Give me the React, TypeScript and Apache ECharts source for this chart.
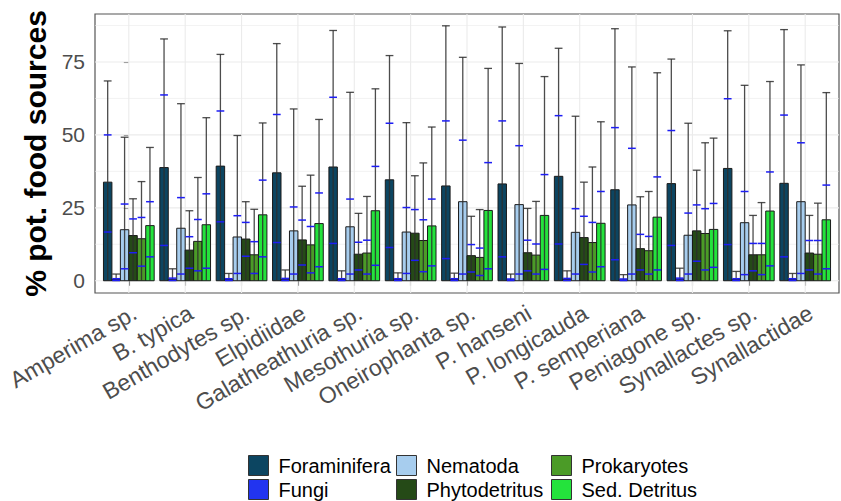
import React, { useEffect, useRef } from 'react';
import * as echarts from 'echarts';

const categories = [
  'Amperima sp.', 'B. typica', 'Benthodytes sp.', 'Elpidiidae', 'Galatheathuria sp.',
  'Mesothuria sp.', 'Oneirophanta sp.', 'P. hanseni', 'P. longicauda', 'P. semperiana',
  'Peniagone sp.', 'Synallactes sp.', 'Synallactidae',
];

const seriesNames = ['Foraminifera', 'Fungi', 'Nematoda', 'Phytodetritus', 'Prokaryotes', 'Sed. Detritus'];
const seriesColors = ['#0c4561', '#2234f0', '#a7cdee', '#254a17', '#4b9b27', '#24e33c'];

// bar height (mean), blue lower/upper marks, black whisker maximum
const foraminiferaBar = [33.8, 38.8, 39.3, 37.0, 39.0, 34.6, 32.5, 33.2, 35.8, 31.2, 33.3, 38.5, 33.4];
const foraminiferaLow = [16.7, 12.1, 20.2, 13.1, 12.8, 11.4, 7.6, 8.2, 12.6, 7.2, 12.1, 12.4, 8.2];
const foraminiferaHigh = [50.0, 63.7, 58.2, 57.0, 62.9, 54.0, 54.8, 54.8, 56.6, 52.5, 51.5, 62.4, 56.8];
const foraminiferaMax = [68.5, 82.9, 77.6, 81.3, 85.8, 77.2, 87.4, 87.0, 79.7, 86.4, 76.0, 85.7, 86.1];

const fungiBar = [0.4, 0.5, 0.4, 0.5, 0.4, 0.4, 0.4, 0.3, 0.5, 0.3, 0.6, 0.4, 0.4];
const fungiLow = [0.1, 0.1, 0.1, 0.1, 0.1, 0.1, 0.1, 0.1, 0.1, 0.1, 0.1, 0.1, 0.1];
const fungiHigh = [0.7, 0.9, 0.7, 0.8, 0.7, 0.7, 0.7, 0.6, 0.8, 0.6, 0.9, 0.7, 0.7];
const fungiMax = [2.3, 4.1, 2.5, 3.7, 3.4, 2.7, 2.6, 2.3, 3.4, 2.1, 4.3, 3.2, 2.5];

const nematodaBar = [17.5, 18.0, 15.0, 17.1, 18.5, 16.7, 27.1, 26.1, 16.6, 26.0, 15.6, 19.9, 27.1];
const nematodaLow = [4.1, 2.3, 2.5, 2.3, 2.3, 2.5, 2.3, 2.3, 2.3, 2.3, 2.3, 2.1, 2.5];
const nematodaHigh = [26.3, 28.5, 22.3, 25.3, 28.0, 25.1, 48.2, 46.3, 24.7, 45.4, 23.2, 30.6, 47.3];
const nematodaMax = [49.2, 60.7, 49.8, 58.9, 64.6, 54.2, 76.6, 74.5, 56.4, 73.3, 54.0, 67.0, 74.0];

const phytodetritusBar = [15.5, 10.5, 14.3, 14.0, 9.1, 16.3, 8.6, 9.6, 14.8, 11.0, 17.1, 8.9, 9.5];
const phytodetritusLow = [9.6, 4.3, 8.4, 5.4, 3.7, 7.0, 3.0, 3.4, 5.6, 3.7, 6.7, 3.4, 3.7];
const phytodetritusHigh = [21.2, 15.1, 20.0, 20.8, 13.2, 24.4, 12.4, 13.9, 22.1, 15.9, 26.0, 12.8, 13.8];
const phytodetritusMax = [28.1, 24.0, 27.1, 32.4, 23.1, 36.0, 22.1, 24.8, 33.8, 28.8, 37.9, 22.4, 22.4];

const prokaryotesBar = [14.4, 13.5, 8.9, 12.3, 9.5, 13.8, 8.0, 8.8, 13.1, 10.3, 16.2, 8.9, 9.1];
const prokaryotesLow = [5.0, 3.4, 2.5, 2.7, 2.3, 3.1, 1.8, 2.3, 3.0, 2.3, 3.7, 2.1, 2.3];
const prokaryotesHigh = [21.7, 21.0, 13.4, 18.6, 13.9, 20.9, 11.2, 12.6, 20.0, 15.2, 24.7, 12.8, 13.8];
const prokaryotesMax = [34.0, 35.4, 24.5, 36.2, 28.9, 40.4, 24.4, 27.2, 39.0, 30.6, 47.3, 26.8, 26.6];

const sedDetritusBar = [18.9, 19.2, 22.6, 19.6, 24.0, 18.8, 24.1, 22.4, 19.7, 21.8, 17.6, 23.9, 20.9];
const sedDetritusLow = [8.2, 4.3, 8.2, 4.8, 5.3, 5.1, 4.1, 3.9, 4.8, 3.7, 4.6, 5.1, 4.1];
const sedDetritusHigh = [27.1, 29.8, 34.5, 30.1, 39.2, 28.0, 40.5, 36.4, 30.6, 35.6, 26.5, 37.3, 32.8];
const sedDetritusMax = [45.7, 55.9, 54.1, 55.3, 65.8, 52.7, 72.8, 70.0, 54.5, 71.3, 48.9, 68.3, 64.5];

const yTickValues = [0, 25, 50, 75];
const yMinorGridValues = [12.5, 37.5, 62.5, 87.5];

const FONT = '"Liberation Sans", Arial, Helvetica, sans-serif';

export default function App() {
  const ref = useRef<HTMLDivElement>(null);

  useEffect(() => {
    if (!ref.current) return;
    const chart = echarts.init(ref.current, null, { renderer: 'svg' });

    const groups = [
      { bar: foraminiferaBar, low: foraminiferaLow, high: foraminiferaHigh, max: foraminiferaMax },
      { bar: fungiBar, low: fungiLow, high: fungiHigh, max: fungiMax },
      { bar: nematodaBar, low: nematodaLow, high: nematodaHigh, max: nematodaMax },
      { bar: phytodetritusBar, low: phytodetritusLow, high: phytodetritusHigh, max: phytodetritusMax },
      { bar: prokaryotesBar, low: prokaryotesLow, high: prokaryotesHigh, max: prokaryotesMax },
      { bar: sedDetritusBar, low: sedDetritusLow, high: sedDetritusHigh, max: sedDetritusMax },
    ];
    const nG = groups.length;
    const dodge = 0.9;
    const bw = dodge / nG;
    const offset = (g: number) => -dodge / 2 + bw / 2 + g * bw;

    const gridLineSeries: any[] = [
      {
        type: 'custom',
        name: 'hgrid',
        silent: true,
        z: 1,
        data: [
          ...yMinorGridValues.map((v) => [0, v, 0]),
          ...yTickValues.map((v) => [0, v, 1]),
        ],
        encode: { x: 0, y: 1 },
        renderItem: (params: any, api: any) => {
          const cs = params.coordSys;
          const y = api.coord([0, api.value(1)])[1];
          const major = api.value(2) === 1;
          return {
            type: 'line',
            shape: { x1: cs.x, y1: y, x2: cs.x + cs.width, y2: y },
            style: { stroke: '#ebebeb', lineWidth: major ? 1.1 : 0.6 },
          };
        },
      },
      {
        type: 'custom',
        name: 'vgrid',
        silent: true,
        z: 1,
        data: categories.map((_, i) => [i, 0]),
        encode: { x: 0, y: 1 },
        renderItem: (params: any, api: any) => {
          const cs = params.coordSys;
          const x = api.coord([api.value(0), 0])[0];
          return {
            type: 'line',
            shape: { x1: x, y1: cs.y, x2: x, y2: cs.y + cs.height },
            style: { stroke: '#ebebeb', lineWidth: 1.1 },
          };
        },
      },
    ];

    const barSeries = groups.map((grp, g) => ({
      type: 'custom',
      name: seriesNames[g],
      z: 2,
      itemStyle: { color: seriesColors[g] },
      data: grp.bar.map((v, i) => [i, v]),
      encode: { x: 0, y: 1 },
      renderItem: (params: any, api: any) => {
        const xc = (api.value(0) as number) + offset(g);
        const v = api.value(1) as number;
        const p0 = api.coord([xc - bw / 2, v]);
        const p1 = api.coord([xc + bw / 2, 0]);
        return {
          type: 'rect',
          shape: { x: p0[0], y: p0[1], width: p1[0] - p0[0], height: p1[1] - p0[1] },
          style: { fill: seriesColors[g], stroke: '#1a1a1a', lineWidth: 1 },
        };
      },
    }));

    const errData: number[][] = [];
    groups.forEach((grp, g) => {
      grp.bar.forEach((_, i) => {
        errData.push([i, g, grp.max[i], grp.low[i], grp.high[i]]);
      });
    });

    const errorSeries = {
      type: 'custom',
      name: 'errorbars',
      silent: true,
      z: 3,
      data: errData,
      encode: { x: 0, y: 2 },
      renderItem: (params: any, api: any) => {
        const g = api.value(1) as number;
        const xc = (api.value(0) as number) + offset(g);
        const mx = api.value(2) as number;
        const lo = api.value(3) as number;
        const hi = api.value(4) as number;
        const hw = bw / 2 * 0.92;
        const base = api.coord([xc, 0]);
        const top = api.coord([xc, mx]);
        const left = api.coord([xc - hw, 0])[0];
        const right = api.coord([xc + hw, 0])[0];
        const yLo = api.coord([xc, lo])[1];
        const yHi = api.coord([xc, hi])[1];
        const black = { stroke: 'rgba(45,45,45,0.85)', lineWidth: 1.3 };
        const blue = { stroke: '#1d1df5', lineWidth: 1.5 };
        return {
          type: 'group',
          children: [
            { type: 'line', shape: { x1: base[0], y1: base[1], x2: top[0], y2: top[1] }, style: black },
            { type: 'line', shape: { x1: left, y1: top[1], x2: right, y2: top[1] }, style: black },
            { type: 'line', shape: { x1: left, y1: yLo, x2: right, y2: yLo }, style: blue },
            { type: 'line', shape: { x1: left, y1: yHi, x2: right, y2: yHi }, style: blue },
          ],
        };
      },
    };

    const legendLefts = [248, 396, 551];
    const legends = [0, 1, 2].map((c) => ({
      data: seriesNames.slice(c * 2, c * 2 + 2),
      orient: 'vertical',
      left: legendLefts[c],
      top: 455,
      width: 200,
      height: 60,
      padding: 0,
      itemWidth: 20,
      itemHeight: 20,
      itemGap: 3,
      icon: 'rect',
      selectedMode: false,
      itemStyle: { borderColor: '#333', borderWidth: 1 },
      textStyle: { fontSize: 20, lineHeight: 20, color: '#000', fontFamily: FONT, padding: [0, 0, 0, 5] },
    }));

    const option: any = {
      animation: false,
      backgroundColor: '#ffffff',
      textStyle: { fontFamily: FONT },
      grid: {
        left: 95,
        right: 2,
        top: 14,
        bottom: 208,
        show: true,
        backgroundColor: '#ffffff',
        borderColor: '#555555',
        borderWidth: 1.2,
        containLabel: false,
      },
      legend: legends,
      xAxis: {
        type: 'value',
        min: -0.6,
        max: 12.6,
        splitLine: { show: false },
        axisLine: { show: false },
        axisTick: {
          show: true,
          customValues: categories.map((_, i) => i),
          length: 5,
          lineStyle: { color: '#555555', width: 1.1 },
        },
        axisLabel: {
          show: true,
          customValues: categories.map((_, i) => i),
          formatter: (v: number) => categories[Math.round(v)] ?? '',
          rotate: 30,
          align: 'right',
          verticalAlign: 'top',
          margin: 8,
          fontSize: 23,
          color: '#4d4d4d',
          fontFamily: FONT,
        },
      },
      yAxis: {
        type: 'value',
        min: -4.2,
        max: 91.45,
        splitLine: { show: false },
        axisLine: { show: false },
        axisTick: {
          show: true,
          customValues: yTickValues,
          length: 5,
          lineStyle: { color: '#555555', width: 1.1 },
        },
        axisLabel: {
          show: true,
          customValues: yTickValues,
          fontSize: 21,
          color: '#4d4d4d',
          margin: 10,
          fontFamily: FONT,
        },
        name: '% pot. food sources',
        nameLocation: 'middle',
        nameGap: 42,
        nameTextStyle: { fontSize: 30, fontWeight: 'bold', color: '#000', fontFamily: FONT },
      },
      series: [...gridLineSeries, ...barSeries, errorSeries],
    };

    chart.setOption(option);
    return () => chart.dispose();
  }, []);

  return <div ref={ref} style={{ position: 'fixed', left: 0, top: 0, width: 841, height: 501 }} />;
}
